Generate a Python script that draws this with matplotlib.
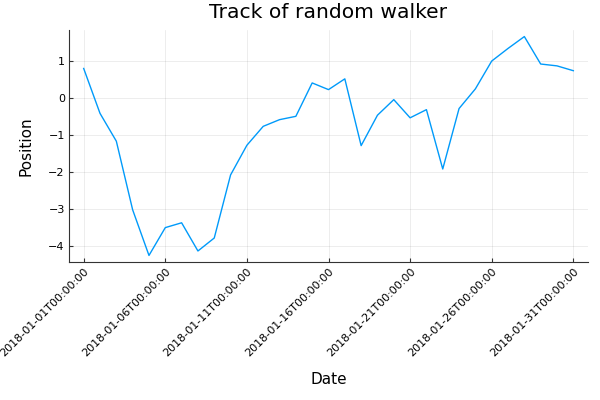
import numpy as np
import pandas as pd
import matplotlib
matplotlib.use('Agg')
import matplotlib.pyplot as plt
import matplotlib.dates as mdates

dates = pd.date_range('2018-01-01', '2018-01-31', freq='D')
position = [0.79, -0.42, -1.17, -3.02, -4.25, -3.50, -3.37, -4.13, -3.78, -2.08,
            -1.28, -0.77, -0.59, -0.50, 0.40, 0.22, 0.51, -1.29, -0.47, -0.05,
            -0.54, -0.32, -1.92, -0.29, 0.24, 0.99, 1.33, 1.65, 0.91, 0.86, 0.73]
tick_dates = pd.date_range('2018-01-01', '2018-01-31', freq='5D')
yticks = [-4, -3, -2, -1, 0, 1]

fig = plt.figure(figsize=(6, 4), dpi=100)
ax = fig.add_axes([0.115, 0.345, 0.865, 0.58])

ax.plot(dates, position, color='#009AFA', linewidth=1)

# padding like the Julia default (3%)
x0, x1 = mdates.date2num(dates[0]), mdates.date2num(dates[-1])
pad = (x1 - x0) * 0.03
ax.set_xlim(x0 - pad, x1 + pad)
ymin, ymax = min(position), max(position)
ypad = (ymax - ymin) * 0.03
ax.set_ylim(ymin - ypad, ymax + ypad)

ax.set_xticks(mdates.date2num(tick_dates))
ax.set_xticklabels([d.strftime('%Y-%m-%dT%H:%M:%S') for d in tick_dates],
                   rotation=45, ha='right', rotation_mode='anchor', fontsize=8)
ax.set_yticks(yticks)
ax.set_yticklabels([str(v).replace('-', '\u2212') for v in yticks], fontsize=8)

ax.grid(True, color='black', alpha=0.1, linewidth=0.5)
ax.spines['top'].set_visible(False)
ax.spines['right'].set_visible(False)
ax.spines['left'].set_color('#333333')
ax.spines['bottom'].set_color('#333333')
ax.tick_params(direction='in', length=3, width=0.8, color='#333333', pad=3)

ax.set_title('Track of random walker', fontsize=14.6, pad=9)
ax.set_xlabel('Date', fontsize=11)
ax.set_ylabel('Position', fontsize=11)
ax.xaxis.set_label_coords(0.5, -0.474)
ax.yaxis.set_label_coords(-0.069, 0.5)

fig.savefig('out.png', dpi=100)
